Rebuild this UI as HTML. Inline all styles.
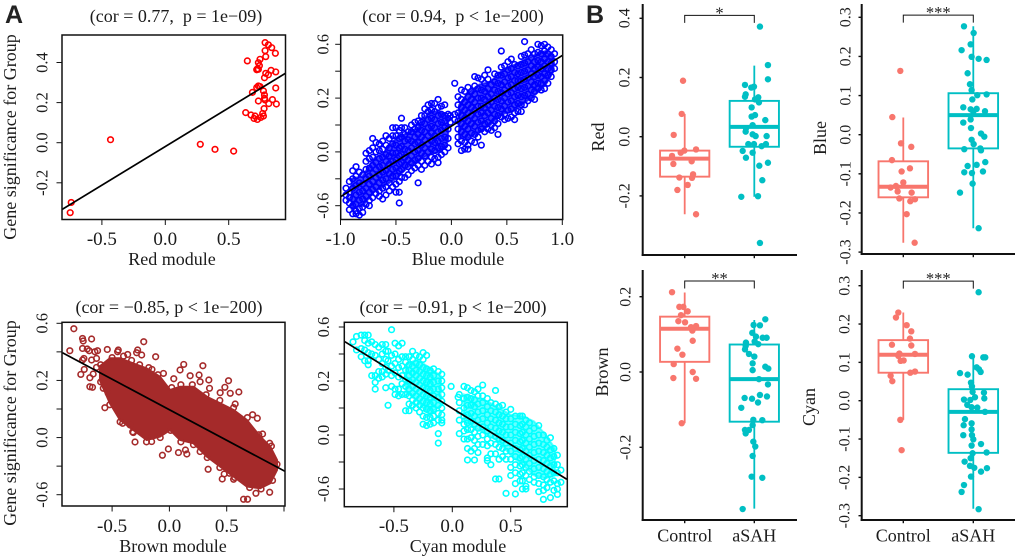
<!DOCTYPE html>
<html lang="en">
<head>
<meta charset="utf-8">
<title>Module membership scatter plots and box plots</title>
<style>
html,body{margin:0;padding:0;background:#fff;}
#figure{display:block;width:1020px;height:560px;font-family:"Liberation Serif",serif;fill:#1c1c1c;}
.ttl{font-size:18px;text-anchor:middle;}
.lab{font-size:18px;text-anchor:middle;}
.letter{font-family:"Liberation Sans",sans-serif;font-weight:700;font-size:25px;fill:#222;}
</style>
</head>
<body>
<svg id="figure" xmlns="http://www.w3.org/2000/svg" width="1020" height="560" viewBox="0 0 1020 560">
<rect x="0" y="0" width="1020" height="560" fill="#fff"/>
<text class="letter" x="5" y="23">A</text>
<text class="letter" x="586" y="23">B</text>
<text class="ttl" x="176" y="22">(cor = 0.77, &#160;p = 1e−09)</text>
<text class="ttl" x="453" y="22">(cor = 0.94, &#160;p &lt; 1e−200)</text>
<text class="ttl" x="169" y="313">(cor = −0.85, p &lt; 1e−200)</text>
<text class="ttl" x="453" y="313">(cor = −0.91, p &lt; 1e−200)</text>
<text class="lab" x="172" y="265">Red module</text>
<text class="lab" x="458" y="265">Blue module</text>
<text class="lab" x="173" y="552">Brown module</text>
<text class="lab" x="458" y="552">Cyan module</text>
<text class="lab" transform="translate(16,137) rotate(-90)">Gene significance for Group</text>
<text class="lab" transform="translate(16,423) rotate(-90)">Gene significance for Group</text>
<text class="lab" transform="translate(604,137) rotate(-90)">Red</text>
<text class="lab" transform="translate(826,138) rotate(-90)">Blue</text>
<text class="lab" transform="translate(608,372) rotate(-90)">Brown</text>
<text class="lab" transform="translate(815,407) rotate(-90)">Cyan</text>
</svg>
<script>
/* ---------- Panel A: scatter data ---------- */
const redPoints=[[.787,.499],[.813,.488],[.839,.474],[.787,.459],[.868,.446],[.792,.429],[.747,.416],[.647,.408],[.734,.399],[.742,.384],[.726,.368],[.734,.366],[.721,.364],[.834,.361],[.871,.353],[.792,.346],[.813,.339],[.782,.324],[.734,.283],[.747,.280],[.721,.275],[.871,.273],[.687,.251],[.774,.258],[.782,.238],[.782,.221],[.845,.215],[.787,.213],[.734,.208],[.816,.195],[.876,.193],[.779,.170],[.768,.146],[.634,.150],[.676,.138],[.708,.133],[.774,.133],[.700,.121],[.753,.126],[.726,.116],[-.432,.015],[.276,-.008],[.392,-.033],[.539,-.042],[-.742,-.298],[-.750,-.349]];
const redLineX=[-.815,.95];
const redLineY=[-.333,.347];
const redXTicks=[-.5,0,.5];
const redXLabels=["-0.5","0.0","0.5"];
const redYTicks=[-.2,0,.2,.4];
const redYLabels=["-0.2","0.0","0.2","0.4"];

const blueLeftCoreX=[-.9,-.8,-.7,-.6,-.5,-.4,-.3,-.2,-.1,-.03];
const blueLeftCoreTop=[-.40,-.38,-.25,-.20,-.10,-.06,-.02,.10,.10,.05];
const blueLeftCoreBottom=[-.62,-.60,-.50,-.45,-.40,-.32,-.26,-.22,-.20,-.12];
const blueRightCoreX=[.07,.15,.25,.35,.45,.55,.65,.75,.85,.92];
const blueRightCoreTop=[.15,.24,.30,.32,.40,.44,.48,.52,.55,.50];
const blueRightCoreBottom=[-.10,-.10,-.05,0,.08,.10,.16,.22,.30,.40];
const blueColumnX=[-.95,-.92,-.89,-.86,-.83,-.80,-.77,-.74,-.71,-.68,-.65,-.62,-.59,-.56,-.53,-.50,-.47,-.45,-.42,-.39,-.36,-.33,-.30,-.27,-.24,-.21,-.18,-.15,-.12,-.09,-.06,-.03,-.01,.03,.06,.09,.12,.15,.18,.21,.24,.27,.30,.33,.36,.39,.42,.45,.48,.51,.54,.57,.60,.63,.66,.69,.72,.75,.78,.81,.84,.87,.90,.93];
const blueColumnY=[
[-.47,-.56,-.52],[-.42,-.50,-.58,-.63,-.54],[-.34,-.40,-.47,-.55,-.66,-.60],[-.31,-.38,-.45,-.52,-.59,-.66,-.64],[-.35,-.43,-.50,-.56,-.62,-.67],[-.37,-.44,-.49,-.55,-.61,-.65],
[-.21,-.27,-.33,-.40,-.47,-.53,-.59],[-.19,-.25,-.32,-.38,-.44,-.50,-.56,-.60],[-.10,-.17,-.24,-.30,-.36,-.42,-.48,-.54],[-.13,-.20,-.28,-.33,-.39,-.46,-.51],[-.14,-.19,-.25,-.31,-.37,-.43,-.49,-.53],[-.12,-.18,-.24,-.30,-.35,-.41,-.47,-.55],
[-.08,-.15,-.22,-.27,-.34,-.40,-.46,-.52],[-.10,-.17,-.23,-.29,-.36,-.43,-.49],[-.02,-.08,-.14,-.21,-.27,-.33,-.38,-.46],[-.02,-.08,-.15,-.21,-.26,-.32,-.38,-.44,-.50],[-.04,-.10,-.17,-.23,-.29,-.34,-.42,-.50,-.58],[.05,-.02,-.09,-.16,-.22,-.28,-.33,-.39],
[-.02,-.07,-.12,-.18,-.24,-.30,-.39],[-.05,-.11,-.19,-.26,-.31,-.37],[0,-.05,-.12,-.17,-.23,-.28,-.34],[.02,-.03,-.09,-.14,-.20,-.26,-.32],[.03,-.02,-.07,-.13,-.19,-.25,-.30,-.43],[.07,.02,-.04,-.09,-.15,-.21,-.27,-.33],
[.12,.07,.01,-.05,-.11,-.17,-.23,-.30],[.15,.10,.04,-.02,-.08,-.14,-.20,-.27],[.16,.11,.05,-.01,-.06,-.12,-.18,-.24,-.29],[.16,.10,.04,-.02,-.08,-.13,-.19,-.25],[.19,.13,.07,.01,-.05,-.12,-.17,-.24,-.28],[.14,.08,.02,-.04,-.10,-.16,-.22],[.15,.07,.03,-.02,-.09,-.15,-.20],[.08,.05,-.03,-.10,-.17],[.07,.02],
[.31,.08,.04],[.21,.15,.09,.03,-.03,-.09,-.14],[.26,.19,.13,.07,.01,-.05,-.12,-.19],[.25,.17,.11,.05,-.01,-.07,-.13,-.18],[.28,.21,.15,.09,.03,-.03,-.09,-.15,-.18],[.25,.19,.13,.07,.01,-.06,-.12],[.36,.29,.23,.17,.11,.05,-.01,-.07,-.13],[.35,.27,.20,.14,.08,.02,-.04,-.09],[.34,.26,.20,.14,.09,.03,-.03,-.15],
[.37,.31,.25,.19,.13,.07,.01,-.05],[.41,.34,.27,.21,.15,.09,.02,-.03],[.30,.23,.17,.11,.05,0,-.04],[.38,.32,.26,.20,.14,.08,.03,-.02],[.37,.31,.25,.19,.13,.07,-.07,.01],[.55,.43,.37,.30,.24,.18,.12,.06],[.44,.38,.32,.26,.20,.14,.08,.04],[.47,.41,.35,.29,.23,.17,.11,.05],[.49,.42,.36,.30,.24,.18,.12,.06],[.45,.39,.33,.27,.21,.15,.09,.04],
[.44,.38,.33,.28,.22,.16,.10],[.51,.45,.39,.33,.27,.21,.15,.10],[.62,.52,.46,.40,.34,.28,.22,.15],[.53,.47,.41,.35,.29,.23,.18],[.56,.50,.44,.38,.32,.26,.20],[.53,.47,.42,.36,.30,.25,.19],[.60,.54,.48,.43,.37,.31,.27],[.59,.53,.47,.42,.36,.31,.26],[.60,.55,.49,.44,.38,.33,.27],[.58,.53,.47,.42,.37,.31],[.56,.51,.46,.41,.36],[.53,.47,.42]];
const blueLineX=[-1,1];
const blueLineY=[-.534,.517];
const blueXTicks=[-1,-.5,0,.5,1];
const blueXLabels=["-1.0","-0.5","0.0","0.5","1.0"];
const blueYTicks=[-.6,-.4,-.2,0,.2,.4,.6];
const blueYLabels=["-0.6","","0.0","","0.2","","0.6"];

const brownCoreX=[-.606,-.519,-.431,-.315,-.198,-.082,.006,.093,.21,.327,.443,.56,.676,.793,.88,.939];
const brownCoreTop=[.30,.355,.355,.319,.284,.226,.133,.156,.156,.086,.040,-.007,-.077,-.193,-.263,-.357];
const brownCoreBottom=[.20,.04,-.077,-.147,-.217,-.193,-.147,-.217,-.24,-.333,-.403,-.473,-.543,-.555,-.520,-.427];
const brownPoints=[[-.834,.562],[-.758,.494],[-.752,.476],[-.679,.490],[-.869,.408],[-.758,.424],[-.717,.420],[-.700,.408],[-.627,.408],[-.650,.401],[-.542,.417],[-.446,.413],[-.452,.401],[-.277,.413],[-.286,.394],[-.242,.378],[-.364,.382],[-.224,.471],[-.120,.366],[-.746,.354],[-.758,.343],[-.679,.343],[-.636,.354],[-.743,.277],[-.773,.242],[-.694,.219],[-.665,.245],[-.636,.291],[-.694,.156],[-.671,.152],[-.577,.145],[-.534,.110],[-.563,.009],[-.152,.277],[-.052,.249],[.038,.212],[.093,.273],[.125,.312],[.181,.233],[.259,.238],[.292,.303],[.268,.191],[.344,.203],[.350,.145],[.516,.198],[.484,.152],[.606,.119],[.531,.110],[.443,.114],[.574,.035],[.726,-.040],[.767,-.065],[.813,-.175],[.875,-.240],[-.300,-.231],[-.061,-.324],[-.009,-.280],[.079,-.305],[.152,-.315],[.140,-.287],[.268,-.298],[.338,-.422],[.461,-.490],[.478,-.455],[.560,-.492],[.525,-.450],[.647,-.632],[.682,-.632],[.755,-.590],[.875,-.583],[-.408,-.100],[-.344,-.112],[-.315,-.165],[-.198,-.193],[-.155,-.228],[.939,-.387],[-.60,.31],[-.50,.36],[-.40,.37],[-.33,.34],[-.26,.31],[-.18,.29],[-.10,.24],[.02,.15],[.10,.17],[.20,.17],[.32,.10],[.44,.06],[.56,.01],[.68,-.06],[.78,-.18],[.89,-.26],[.90,-.50],[.80,-.56],[.70,-.55],[.57,-.48],[.44,-.41],[.33,-.34],[.21,-.25],[.10,-.23],[.01,-.15],[-.08,-.20],[-.20,-.23],[-.32,-.16],[-.43,-.09],[-.52,.03],[-.60,.19]];
const brownLineX=[-.933,1.012];
const brownLineY=[.394,-.438];
const brownXTicks=[-.5,0,.5,1];
const brownXLabels=["-0.5","0.0","0.5",""];
const brownYTicks=[-.6,-.4,-.2,0,.2,.4,.6];
const brownYLabels=["-0.6","","0.0","","0.2","","0.6"];

const cyanLeftCoreX=[-.40,-.30,-.20,-.10];
const cyanLeftCoreTop=[.32,.36,.30,.24];
const cyanLeftCoreBottom=[.12,.05,-.05,.02];
const cyanRightCoreX=[.10,.20,.30,.40,.50,.60,.70,.80,.88];
const cyanRightCoreTop=[.10,.08,.05,0,-.05,-.06,-.10,-.20,-.30];
const cyanRightCoreBottom=[-.10,-.15,-.20,-.25,-.35,-.42,-.50,-.52,-.50];
const cyanColumnX=[-.85,-.82,-.78,-.75,-.72,-.69,-.66,-.63,-.60,-.57,-.55,-.52,-.49,-.46,-.43,-.40,-.37,-.34,-.31,-.28,-.25,-.22,-.19,-.16,-.12,-.09,-.01,.05,.06,.10,.13,.16,.19,.22,.26,.30,.33,.37,.40,.43,.46,.50,.54,.58,.60,.63,.66,.70,.74,.78,.81,.84,.87,.90,.93];
const cyanColumnY=[
[.49],[.53,.43],[.54,.44,.38],[.54,.50,.43,.35],[.54,.48,.41,.35,.32],[.49,.40,.24],[.47,.39,.24,.19,.14],[.45,.36,.27,.22],[.47,.40,.33,.27,.23],[.47,.42,.36,.30,.25,.15],[.42,.35,.28,.02],[.58,.39,.31,.24,.16],[.48,.40,.33,.26,.14,.10],[.46,.36,.30,.23,.14,.09],[.48,.38,.31,.24,.18,.10],[.38,.34,.28,.21,.16,.10,-.02],
[.38,.32,.28,.24,.20,.14,.09,.03,-.02],[.42,.36,.31,.26,.21,.16,.11,.06,.02],[.39,.33,.28,.24,.19,.14,.09,.04,0],[.38,.32,.27,.22,.17,.12,.07,.02,-.03],[.41,.36,.30,.25,.20,.15,.10,.05,0,-.06,-.12],[.39,.29,.24,.19,.14,.09,.04,-.01,-.07,-.13],[.28,.23,.18,.13,.08,.03,-.02,-.07,-.12],[.29,.24,.19,.14,.09,.04,-.01,-.06,-.11],[.27,.20,.14,.08,.02,-.04,-.09,-.19,-.26],[.25,.20,.15,.10,.05,0,-.05,-.09,-.11],[.16],[.08],
[.10,.04,-.02,-.09,-.19],[.16,.07,0,-.06,-.12,-.17,-.23],[.15,.08,.02,-.05,-.11,-.16,-.23,-.30,-.385],[.13,.07,.02,-.04,-.10,-.16,-.22,-.32],[.12,.06,.01,-.06,-.12,-.18,-.24,-.30,-.385],[.14,.09,.03,-.03,-.09,-.15,-.21,-.27,-.33],[.17,.09,.04,-.02,-.08,-.14,-.20,-.27],[.07,.01,-.05,-.11,-.17,-.23,-.28,-.37,-.39],[.04,-.02,-.08,-.14,-.20,-.26,-.34,-.42],[.13,.03,-.03,-.09,-.15,-.21,-.27,-.34,-.526],[.01,-.05,-.11,-.17,-.23,-.29,-.38,-.526],[.02,-.06,-.12,-.18,-.24,-.30,-.36],[-.03,-.08,-.14,-.20,-.26,-.32,-.38,-.632],[-.01,-.08,-.14,-.20,-.26,-.32,-.38,-.44,-.50],[-.06,-.12,-.18,-.24,-.30,-.36,-.42,-.48,-.56,-.637],
[-.06,-.13,-.19,-.25,-.31,-.37,-.43,-.49,-.54],[-.06,-.12,-.18,-.24,-.30,-.36,-.42,-.48,-.54,-.60],[-.09,-.14,-.20,-.26,-.32,-.38,-.44,-.50,-.58,-.60],[-.11,-.17,-.23,-.29,-.35,-.41,-.47,-.53],[-.15,-.21,-.27,-.33,-.39,-.45,-.51,-.55],[-.13,-.20,-.26,-.32,-.38,-.44,-.50,-.56,-.62],[-.20,-.27,-.33,-.39,-.45,-.51,-.57,-.61,-.677],[-.24,-.29,-.35,-.41,-.47,-.53,-.59],[-.22,-.31,-.37,-.43,-.49,-.55,-.664],[-.30,-.36,-.42,-.48,-.54,-.61],[-.35,-.42,-.48,-.56,-.60,-.64],[-.46,-.55]];
const cyanLineX=[-.92,.98];
const cyanLineY=[.491,-.528];
const cyanXTicks=[-.5,0,.5];
const cyanXLabels=["-0.5","0.0","0.5"];
const cyanYTicks=[-.6,-.4,-.2,0,.2,.4,.6];
const cyanYLabels=["-0.6","","0.0","","0.2","","0.6"];

/* ---------- Panel B: box plot data (stats are whisker-low, q1, median, q3, whisker-high) ---------- */
const groupNames=["Control","aSAH"];

const redBoxControl=[-.262,-.135,-.074,-.047,.077];
const redBoxAsah=[-.203,-.034,.033,.121,.240];
const redDotsControl=[[-.024,.189],[-.043,.077],[-.158,.006],[.163,-.043],[-.005,-.047],[-.057,-.054],[-.182,-.065],[.100,-.083],[-.163,-.092],[.120,-.127],[.105,-.139],[-.077,-.138],[.043,-.163],[-.105,-.180],[.163,-.262]];
const redDotsAsah=[[.081,.372],[.196,.242],[.196,.194],[-.134,.175],[-.005,.169],[-.043,.166],[-.124,.143],[-.134,.135],[.057,.133],[.010,.126],[.067,.116],[-.038,.099],[.010,.073],[-.038,.068],[.158,.056],[-.024,.039],[-.120,.028],[-.124,.017],[-.024,.008],[.019,.002],[.177,.002],[-.086,-.025],[-.005,-.025],[.167,-.025],[.105,-.032],[-.167,-.048],[-.024,-.054],[-.120,-.071],[.196,-.088],[.072,-.098],[.115,-.147],[-.187,-.203],[.053,-.201],[.081,-.359]];
const redBoxTicks=[-.2,0,.2,.4];
const redBoxLabels=["-0.2","0.0","0.2","0.4"];
const redBracket=[.41,"*"];

const blueBoxControl=[-.276,-.160,-.133,-.068,.044];
const blueBoxAsah=[-.239,-.035,.050,.106,.277];
const blueDotsControl=[[-.043,.163],[-.157,.045],[-.033,-.022],[.114,-.031],[-.162,-.065],[.095,-.086],[-.024,-.094],[0,-.122],[-.105,-.131],[-.181,-.135],[-.081,-.145],[.119,-.148],[-.057,-.163],[.167,-.165],[.100,-.170],[.048,-.203],[.162,-.276]];
const blueDotsAsah=[[-.133,.277],[.005,.260],[-.038,.231],[-.167,.216],[-.024,.199],[.076,.194],[.190,.191],[-.081,.157],[-.048,.129],[-.024,.114],[.057,.101],[.190,.103],[-.014,.090],[-.143,.070],[-.038,.065],[.048,.066],[.167,.060],[0,.059],[-.038,.039],[-.143,.031],[-.033,.017],[.110,.003],[.157,-.005],[-.024,-.013],[.005,-.024],[-.129,-.037],[.100,-.035],[.110,-.040],[.171,-.070],[.048,-.077],[-.081,-.080],[-.129,-.096],[-.019,-.098],[.138,-.094],[-.010,-.125],[-.190,-.148],[.076,-.239]];
const blueBoxTicks=[-.3,-.2,-.1,0,.1,.2,.3];
const blueBoxLabels=["-0.3","-0.2","-0.1","0.0","0.1","0.2","0.3"];
const blueBracket=[.3055,"***"];

const brownBoxControl=[-.136,.027,.115,.147,.211];
const brownBoxAsah=[-.363,-.132,-.019,.073,.138];
const brownDotsControl=[[-.182,.212],[-.077,.173],[-.019,.173],[.043,.161],[-.053,.151],[-.091,.135],[.005,.132],[.163,.122],[.091,.119],[.110,.110],[.115,.083],[-.105,.062],[-.033,.046],[-.158,.021],[.115,0],[-.163,-.016],[.163,-.018],[-.043,-.136]];
const brownDotsAsah=[[.158,.140],[-.010,.125],[.081,.124],[-.029,.104],[.024,.094],[.120,.091],[.177,.091],[-.120,.078],[.005,.081],[.057,.074],[-.124,.069],[-.134,.060],[-.077,.048],[0,.041],[-.024,.023],[.158,.014],[.201,.009],[-.024,.005],[.067,-.019],[.196,-.033],[.081,-.061],[.182,-.065],[-.139,-.069],[-.033,-.071],[.053,-.081],[-.187,-.095],[-.014,-.127],[.115,-.128],[-.024,-.141],[-.134,-.154],[-.077,-.154],[-.124,-.163],[-.014,-.185],[.014,-.198],[-.024,-.223],[-.038,-.278],[.115,-.281],[-.167,-.364]];
const brownBoxTicks=[-.2,0,.2];
const brownBoxLabels=["-0.2","0.0","0.2"];
const brownBracket=[.2416,"**"];

const cyanBoxControl=[-.050,.073,.120,.158,.230];
const cyanBoxAsah=[-.282,-.136,-.029,.030,.113];
const cyanDotsControl=[[-.071,.230],[-.105,.217],[.048,.197],[.114,.181],[.095,.162],[-.162,.146],[.114,.144],[-.057,.123],[.167,.122],[-.071,.117],[.005,.105],[-.038,.104],[.167,.076],[.100,.073],[-.181,.065],[-.157,.051],[-.043,-.050],[-.024,-.129]];
const cyanDotsAsah=[[.076,.283],[-.019,.116],[.143,.113],[.171,.113],[.048,.087],[.081,.082],[.105,.075],[-.190,.072],[-.081,.068],[-.033,.047],[-.019,.037],[-.010,.023],[.152,.021],[.157,.006],[-.133,.003],[-.043,.002],[.024,.009],[-.086,-.011],[-.024,-.017],[.057,-.018],[.167,-.029],[-.119,-.048],[-.024,-.059],[-.138,-.064],[-.024,-.075],[-.143,-.090],[-.019,-.090],[0,-.101],[.110,-.113],[-.024,-.117],[.190,-.135],[-.010,-.137],[-.038,-.150],[-.124,-.159],[-.048,-.170],[.014,-.175],[.195,-.176],[.110,-.185],[-.033,-.198],[-.133,-.220],[-.167,-.238],[.076,-.283]];
const cyanBoxTicks=[-.3,-.2,-.1,0,.1,.2,.3];
const cyanBoxLabels=["-0.3","-0.2","-0.1","0.0","0.1","0.2","0.3"];
const cyanBracket=[.312,"***"];

/* ---------- Drawing ---------- */
const SVGNS="http://www.w3.org/2000/svg";
const figure=document.getElementById("figure");
function make(parent,tag,attrs,text){
  const el=document.createElementNS(SVGNS,tag);
  for(const k in attrs){el.setAttribute(k,attrs[k]);}
  if(text!==undefined){el.textContent=text;}
  parent.appendChild(el);
  return el;
}
function linear(v0,p0,v1,p1){
  const m=(p1-p0)/(v1-v0);
  return function(v){return p0+(v-v0)*m;};
}
function bandPath(sx,sy,xs,top,bottom){
  let d="";
  xs.forEach(function(x,i){d+=(i?"L":"M")+sx(x)+" "+sy(top[i]);});
  for(let i=xs.length-1;i>=0;i--){d+="L"+sx(xs[i])+" "+sy(bottom[i]);}
  return d+"Z";
}
function drawScatterFrame(name,box,sx,sy,xTicks,xLabels,yTicks,yLabels,xBase,yCentre,lineX,lineY){
  const g=make(figure,"g",{});
  
  
  const clip=make(g,"clipPath",{id:name+"-clip"});
  make(clip,"rect",{x:box.l,y:box.t,width:box.r-box.l,height:box.b-box.t});
  const line=make(g,"line",{x1:sx(lineX[0]),y1:sy(lineY[0]),x2:sx(lineX[1]),y2:sy(lineY[1]),stroke:"#000","stroke-width":1.7,"clip-path":"url(#"+name+"-clip)"});
  
  
  const frame=make(g,"rect",{x:box.l,y:box.t,width:box.r-box.l,height:box.b-box.t,fill:"none",stroke:"#111","stroke-width":1.5});
  
  
  xTicks.forEach(function(t,i){
    const tick=make(g,"line",{x1:sx(t),x2:sx(t),y1:box.b,y2:box.b+5.5,stroke:"#111","stroke-width":1});
    
    
    if(xLabels[i]){
      const lab=make(g,"text",{x:sx(t),y:xBase,"text-anchor":"middle","font-size":19},xLabels[i]);
      
      
    }
  });
  yTicks.forEach(function(t,i){
    const tick=make(g,"line",{x1:box.l-5.5,x2:box.l,y1:sy(t),y2:sy(t),stroke:"#111","stroke-width":1});
    
    
    if(yLabels[i]){
      const lab=make(g,"text",{transform:"translate("+yCentre+","+sy(t)+") rotate(-90)","text-anchor":"middle","font-size":16.5,dy:".33em"},yLabels[i]);
      
      
    }
  });
}
function drawCircle(parent,name,sx,sy,x,y,colour){
  const c=make(parent,"circle",{cx:sx(x),cy:sy(y),r:2.8,fill:"none",stroke:colour,"stroke-width":1.6});
  
  
}
function pointsGroup(name){
  const g=make(figure,"g",{});
  
  
  return g;
}
function drawCore(g,name,d,colour,opacity){
  const core=make(g,"path",{d:d,fill:colour,stroke:colour,"stroke-width":2,"fill-opacity":opacity,"stroke-opacity":opacity});
  
  
}

/* Red module */
(function(){
  const box={l:62,r:285.5,t:35,b:219.5};
  const sx=linear(0,165.3,.5,228.7), sy=linear(0,142.7,.4,62.5);
  const g=pointsGroup("red");
  redPoints.forEach(function(p){drawCircle(g,"red",sx,sy,p[0],p[1],"#ff0000");});
  drawScatterFrame("red",box,sx,sy,redXTicks,redXLabels,redYTicks,redYLabels,245,42,redLineX,redLineY);
})();
/* Blue module */
(function(){
  const box={l:340.7,r:562.7,t:35,b:219.5};
  const sx=linear(0,451.4,1,562.3), sy=linear(0,125,.6,44.3);
  const g=pointsGroup("blue");
  drawCore(g,"blue-left",bandPath(sx,sy,blueLeftCoreX,blueLeftCoreTop,blueLeftCoreBottom),"#0000ff",.75);
  drawCore(g,"blue-right",bandPath(sx,sy,blueRightCoreX,blueRightCoreTop,blueRightCoreBottom),"#0000ff",.75);
  blueColumnX.forEach(function(x,i){
    blueColumnY[i].forEach(function(y){drawCircle(g,"blue",sx,sy,x,y,"#0000ff");});
  });
  drawScatterFrame("blue",box,sx,sy,blueXTicks,blueXLabels,blueYTicks,blueYLabels,245,323,blueLineX,blueLineY);
})();
/* Brown module */
(function(){
  const box={l:62,r:285,t:322.3,b:506};
  const sx=linear(0,169.4,1,284), sy=linear(0,409,.6,323.3);
  const g=pointsGroup("brown");
  drawCore(g,"brown",bandPath(sx,sy,brownCoreX,brownCoreTop,brownCoreBottom),"#a52a2a",1);
  brownPoints.forEach(function(p){drawCircle(g,"brown",sx,sy,p[0],p[1],"#a52a2a");});
  drawScatterFrame("brown",box,sx,sy,brownXTicks,brownXLabels,brownYTicks,brownYLabels,532,42,brownLineX,brownLineY);
})();
/* Cyan module */
(function(){
  const box={l:344.3,r:567.3,t:322.3,b:506.7};
  const sx=linear(0,452.3,.5,510.7), sy=linear(0,408,.6,327);
  const g=pointsGroup("cyan");
  drawCore(g,"cyan-left",bandPath(sx,sy,cyanLeftCoreX,cyanLeftCoreTop,cyanLeftCoreBottom),"#00ffff",.6);
  drawCore(g,"cyan-right",bandPath(sx,sy,cyanRightCoreX,cyanRightCoreTop,cyanRightCoreBottom),"#00ffff",.6);
  cyanColumnX.forEach(function(x,i){
    cyanColumnY[i].forEach(function(y){drawCircle(g,"cyan",sx,sy,x,y,"#00ffff");});
  });
  drawScatterFrame("cyan",box,sx,sy,cyanXTicks,cyanXLabels,cyanYTicks,cyanYLabels,532,323.5,cyanLineX,cyanLineY);
})();

/* Box plots */
function drawBoxGroup(g,name,sx,sy,cat,stats,dots,colour){
  const half=.354;
  const whisker=make(g,"line",{x1:sx(cat),x2:sx(cat),y1:sy(stats[0]),y2:sy(stats[4]),stroke:colour,"stroke-width":1.8});
  
  
  const body=make(g,"rect",{x:sx(cat-half),width:sx(cat+half)-sx(cat-half),y:sy(stats[3]),height:sy(stats[1])-sy(stats[3]),fill:"#fff",stroke:colour,"stroke-width":1.9});
  
  
  const median=make(g,"line",{x1:sx(cat-half),x2:sx(cat+half),y1:sy(stats[2]),y2:sy(stats[2]),stroke:colour,"stroke-width":4});
  
  
  dots.forEach(function(p){
    const c=make(g,"circle",{cx:sx(cat+p[0]),cy:sy(p[1]),r:3.2,fill:colour});
    
    
  });
}
function drawBoxPanel(name,a,tickValues,tickLabels,statsA,dotsA,statsB,dotsB,bracket,showX){
  const g=make(figure,"g",{});
  
  
  const sx=linear(0,a.x0,1,a.x1), sy=linear(0,a.zero,a.refV,a.refP);
  drawBoxGroup(g,name+'-control',sx,sy,0,statsA,dotsA,"#f8766d");
  drawBoxGroup(g,name+'-asah',sx,sy,1,statsB,dotsB,"#00bfc4");
  const yAxis=make(g,"line",{x1:a.l,x2:a.l,y1:a.top,y2:a.bottom+1,stroke:"#111","stroke-width":2});
  
  
  const xAxis=make(g,"line",{x1:a.l-1,x2:a.r,y1:a.bottom,y2:a.bottom,stroke:"#111","stroke-width":2});
  
  
  tickValues.forEach(function(t,i){
    const tick=make(g,"line",{x1:a.l-3.2,x2:a.l,y1:sy(t),y2:sy(t),stroke:"#111","stroke-width":1.4});
    
    
    const lab=make(g,"text",{transform:"translate("+a.labelX+","+sy(t)+") rotate(-90)","text-anchor":"middle","font-size":16,dy:".33em"},tickLabels[i]);
    
    
  });
  groupNames.forEach(function(n,i){
    const tick=make(g,"line",{x1:sx(i),x2:sx(i),y1:a.bottom,y2:a.bottom+3.2,stroke:"#111","stroke-width":1.4});
    
    
    if(showX){
      const lab=make(g,"text",{x:sx(i),y:a.bottom+21.5,"text-anchor":"middle","font-size":18},n);
      
      
    }
  });
  const by=sy(bracket[0]);
  const br=make(g,"path",{d:"M"+sx(0)+" "+(by+7.5)+"V"+by+"H"+sx(1)+"V"+(by+7.5),fill:"none",stroke:"#111","stroke-width":1});
  
  
  const star=make(g,"text",{x:(sx(0)+sx(1))/2,y:by+3,"text-anchor":"middle","font-size":16.5},bracket[1]);
  
  
}
drawBoxPanel("red",{x0:684.7,x1:754.3,zero:136.7,refV:.4,refP:18.3,l:642.7,r:797,top:4,bottom:255,labelX:624},redBoxTicks,redBoxLabels,redBoxControl,redDotsControl,redBoxAsah,redDotsAsah,redBracket,false);
drawBoxPanel("blue",{x0:903.3,x1:973.3,zero:134.7,refV:.3,refP:17.3,l:861.7,r:1015,top:4,bottom:254,labelX:845},blueBoxTicks,blueBoxLabels,blueBoxControl,blueDotsControl,blueBoxAsah,blueDotsAsah,blueBracket,false);
drawBoxPanel("brown",{x0:684.7,x1:754.3,zero:372,refV:.2,refP:296.7,l:642.7,r:797,top:270,bottom:520,labelX:625},brownBoxTicks,brownBoxLabels,brownBoxControl,brownDotsControl,brownBoxAsah,brownDotsAsah,brownBracket,true);
drawBoxPanel("cyan",{x0:903.3,x1:973.3,zero:400.7,refV:.3,refP:285.7,l:861.7,r:1015,top:270,bottom:520,labelX:844},cyanBoxTicks,cyanBoxLabels,cyanBoxControl,cyanDotsControl,cyanBoxAsah,cyanDotsAsah,cyanBracket,true);
</script>
</body>
</html>
